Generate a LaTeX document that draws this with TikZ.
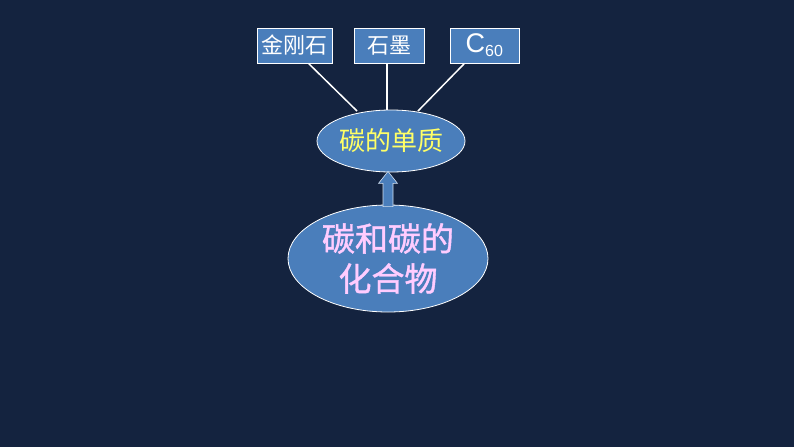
\documentclass[tikz,border=0pt]{standalone}
\usepackage{fontspec}
\setmainfont{Liberation Sans}
\newfontfamily\cjk{Noto Sans CJK SC}
\newfontfamily\cjkheavy[FakeBold=1.2]{Noto Sans CJK SC}
\usetikzlibrary{shapes.geometric,calc}
\definecolor{bgnavy}{HTML}{14233F}
\definecolor{boxblue}{HTML}{4A7EBB}
\definecolor{yel}{HTML}{FFFF66}
\definecolor{pnk}{HTML}{FFCCFF}
\tikzset{
  topbox/.style={draw=white, line width=0.8pt, fill=boxblue, text=white, minimum height=35pt, inner sep=0pt, font=\cjk\fontsize{22}{22}\selectfont},
  oval/.style={ellipse, draw=white, line width=0.8pt, fill=boxblue, inner sep=0pt},
  link/.style={draw=white, line width=1.5pt},
  blockarrow/.style={draw=white!75!boxblue, line width=0.6pt, fill=boxblue},
}
\begin{document}
\begin{tikzpicture}[x=1pt,y=-1pt]
\fill[bgnavy] (0,0) rectangle (794,447);
\useasboundingbox (0,0) rectangle (794,447);
\node[topbox, minimum width=75pt] (b1) at (294.5,45.5) {金刚石};
\node[topbox, minimum width=70pt] (b2) at (389,45.5) {石墨};
\node[topbox, minimum width=69pt, font=\fontsize{27}{27}\selectfont] (b3) at (484.5,45.5) {C\textsubscript{\fontsize{16}{16}\selectfont 60}};
\node[oval, minimum width=148pt, minimum height=62pt, text=yel, font=\cjk\fontsize{26}{26}\selectfont] (e1) at (391,141) {碳的单质};
\node[oval, minimum width=200pt, minimum height=107pt, text=pnk, font=\cjkheavy\fontsize{33}{40}\selectfont, align=center] (e2) at (388,258.5) {碳和碳的\\化合物};
\coordinate (t1) at (357,111);
\coordinate (t2) at (387,110);
\coordinate (t3) at (418,111);
\draw[link] (b1.south) ++(14,0) -- (t1);
\draw[link] (b2.south) ++(-2,0) -- (t2);
\draw[link] (b3.south) ++(-20,0) -- (t3);
\coordinate (abase) at ($(e2.north)+(0,2)$);
\coordinate (atip) at ($(e1.south)+(-3,-1)$);
\draw[blockarrow] ($(abase)+(-5,0)$) -- ($(atip)+(-5,12)$) -- ($(atip)+(-9.5,12)$) -- (atip) -- ($(atip)+(9.5,12)$) -- ($(atip)+(5,12)$) -- ($(abase)+(5,0)$) -- cycle;
\end{tikzpicture}
\end{document}
